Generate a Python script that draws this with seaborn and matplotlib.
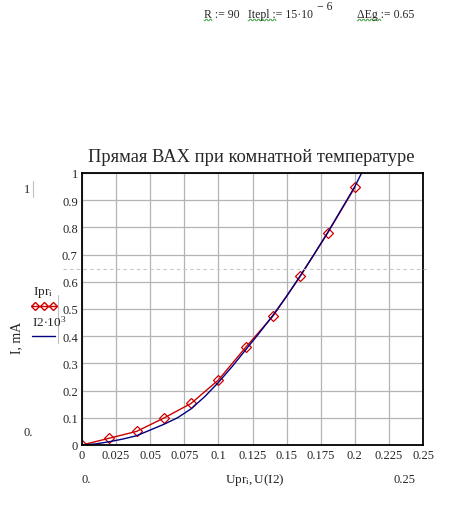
import matplotlib
matplotlib.use("Agg")
import matplotlib.pyplot as plt
import seaborn as sns
import pandas as pd
import numpy as np
from matplotlib.lines import Line2D

# ---- data ----
Upr = [0.0, 0.02, 0.04, 0.06, 0.08, 0.10, 0.12, 0.14, 0.16, 0.18, 0.20]
Ipr = [0.0, 0.025, 0.050, 0.099, 0.153, 0.239, 0.359, 0.474, 0.620, 0.779, 0.947]
U_I2 = [0.0, 0.01, 0.02, 0.03, 0.04, 0.05, 0.06, 0.07, 0.08, 0.09, 0.10,
        0.11, 0.12, 0.13, 0.14, 0.15, 0.16, 0.17, 0.18, 0.19, 0.20, 0.205]
I2_mA = [0.0, 0.004, 0.012, 0.022, 0.034, 0.055, 0.076, 0.100, 0.133, 0.178, 0.230,
         0.288, 0.350, 0.412, 0.477, 0.547, 0.622, 0.700, 0.780, 0.865, 0.950, 1.0]
x_ticks = [0, 0.025, 0.05, 0.075, 0.1, 0.125, 0.15, 0.175, 0.2, 0.225, 0.25]
x_tick_labels = ["0", "0.025", "0.05", "0.075", "0.1", "0.125", "0.15", "0.175", "0.2", "0.225", "0.25"]
y_ticks = [0, 0.1, 0.2, 0.3, 0.4, 0.5, 0.6, 0.7, 0.8, 0.9, 1.0]
y_tick_labels = ["0", "0.1", "0.2", "0.3", "0.4", "0.5", "0.6", "0.7", "0.8", "0.9", "1"]
title = "Прямая ВАХ при комнатной температуре"

sns.set_style("white")
plt.rcParams["font.family"] = ["Liberation Serif", "DejaVu Serif"]
plt.rcParams["mathtext.fontset"] = "custom"
plt.rcParams["mathtext.rm"] = "Liberation Serif"
plt.rcParams["mathtext.it"] = "Liberation Serif"

W, H = 451, 506
fig = plt.figure(figsize=(W / 100, H / 100), dpi=100)
fig.patch.set_facecolor("white")

def fx(px):
    return np.asarray(px) / W if np.ndim(px) else px / W

def fy(py):
    return 1 - np.asarray(py) / H if np.ndim(py) else 1 - py / H

ax = fig.add_axes([fx(82), fy(446), fx(423) - fx(82), (446 - 174) / H])

red = "#CC0000"
blue = "#000080"
df_pr = pd.DataFrame({"U": Upr, "I": Ipr})
df_i2 = pd.DataFrame({"U": U_I2, "I": I2_mA})
sns.lineplot(data=df_pr, x="U", y="I", ax=ax, color=red, lw=1.0, marker="D",
             markersize=5, markerfacecolor="none", markeredgecolor=red,
             markeredgewidth=0.9, sort=False, estimator=None)
sns.lineplot(data=df_i2, x="U", y="I", ax=ax, color=blue, lw=1.0,
             sort=False, estimator=None)

ax.set_xlim(0, 0.25)
ax.set_ylim(0, 1)
ax.set_xticks(x_ticks)
ax.set_xticklabels(x_tick_labels, fontsize=9)
ax.set_yticks(y_ticks)
ax.set_yticklabels(y_tick_labels, fontsize=9)
ax.tick_params(length=0, pad=3)
ax.grid(True, color="#b4b4b4", lw=0.9)
ax.set_axisbelow(True)
for s in ax.spines.values():
    s.set_color("black")
    s.set_linewidth(1.3)
ax.set_xlabel("")
ax.set_ylabel("")

# dashed horizontal artifact line
fig.add_artist(Line2D([fx(63), fx(428)], [fy(270), fy(270)], color="#c8c8c8",
                      lw=0.8, ls=(0, (3, 3))))

# title
fig.text(fx(251), fy(157), title, ha="center", va="center", fontsize=13.3)

# y label
fig.text(fx(17), fy(338), "I, mA", rotation=90, ha="center", va="center", fontsize=10)

# legend
fig.text(fx(33), fy(292), r"$\mathrm{Ipr}_{\mathrm{i}}$", ha="left", va="center", fontsize=9.5)
fig.add_artist(Line2D([fx(32), fx(57)], [fy(307), fy(307)], color=red, lw=1.0))
for mx in [35, 44, 53]:
    fig.add_artist(Line2D([fx(mx)], [fy(307)], color=red, marker="D", markersize=4,
                          markerfacecolor="none", markeredgecolor=red, lw=0))
fig.text(fx(32), fy(322), r"$\mathrm{I2{\cdot}10}^{\mathrm{3}}$", ha="left", va="center", fontsize=9.5)
fig.add_artist(Line2D([fx(32), fx(55)], [fy(337), fy(337)], color=blue, lw=1.0))
fig.add_artist(Line2D([fx(58), fx(58)], [fy(296), fy(344)], color="#c0c0c0", lw=0.8))

# y-limit markers
fig.text(fx(27), fy(190), "1", ha="center", va="center", fontsize=9)
fig.add_artist(Line2D([fx(33), fx(33)], [fy(182), fy(198)], color="#c0c0c0", lw=0.8))
fig.text(fx(28), fy(433), "0.", ha="center", va="center", fontsize=9)

# x-limit markers and x label
fig.text(fx(86), fy(480), "0.", ha="center", va="center", fontsize=9)
fig.text(fx(255), fy(480), r"$\mathrm{Upr}_{\mathrm{i}}\mathrm{,U(I2)}$", ha="center", va="center", fontsize=9.5)
fig.text(fx(405), fy(480), "0.25", ha="center", va="center", fontsize=9)

# header
hs = 8.5
fig.text(fx(204), fy(15), "R := 90", ha="left", va="center", fontsize=hs)
fig.text(fx(248), fy(15), "Itepl := 15·10", ha="left", va="center", fontsize=hs)
fig.text(fx(317), fy(7), "− 6", ha="left", va="center", fontsize=hs)
fig.text(fx(357), fy(15), "ΔEg := 0.65", ha="left", va="center", fontsize=hs)
# green wavy underlines
for x0, x1 in [(204, 212), (248, 276), (357, 381)]:
    xs = np.arange(x0, x1 + 1, 1.0)
    ys = 21 + 0.8 * np.where((xs - x0) % 4 < 2, 1, -1)
    fig.add_artist(Line2D(xs / W, 1 - ys / H, color="#2e9a2e", lw=0.6))

fig.savefig("out.png", dpi=100, facecolor="white")
